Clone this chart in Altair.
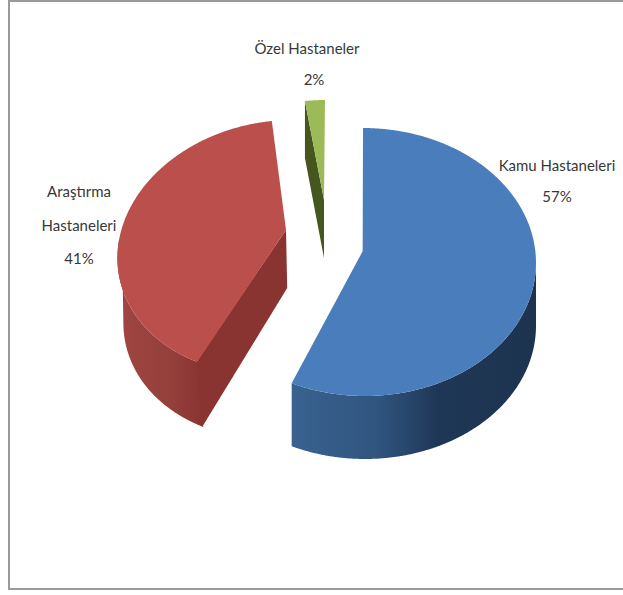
import numpy as np
import pandas as pd
import altair as alt

# Hospital types and their share of the total, in percent
names = ["Kamu Hastaneleri", "Araştırma Hastaneleri", "Özel Hastaneler"]
shares = [57, 41, 2]

WIDTH, HEIGHT = 623, 595
FONT = "Lato"
TEXT = "#383838"

# Projection of each exploded slice: rim ellipse, shear of the tilt, slice tip, wall depth
blue = dict(cx=364, cy=262, a=172, b=134, shear=-1, tip=(366, 245), depth=63, dx=0, tip_depth=60)
red = dict(cx=278, cy=247, a=160, b=127, shear=14, tip=(286, 230), depth=65, dx=6, tip_depth=58)
green = dict(cx=325, cy=227, a=160, b=127, shear=0, tip=(324, 200), depth=57, dx=0, tip_depth=58)

# Clockwise sweep of each slice from twelve o'clock, in degrees
ends = np.cumsum(shares) * 3.6
starts = np.concatenate([[0.0], ends[:-1]])


def rim(g, t0, t1, n=90):
    t = np.radians(np.linspace(t0, t1, n))
    return list(zip(g["cx"] + g["a"] * np.sin(t) + g["shear"] * np.cos(t),
                    g["cy"] - g["b"] * np.cos(t)))


def band(points, step=1.0):
    """Turn a closed outline into x / y / y2 rows for an area mark."""
    pts = np.array(points, dtype=float)
    grid = np.arange(pts[:, 0].min(), pts[:, 0].max() + step, step)
    grid = np.unique(np.clip(np.concatenate([grid, pts[:, 0]]), pts[:, 0].min(), pts[:, 0].max()))
    rows = []
    a, b = pts, np.roll(pts, -1, axis=0)
    for x in grid:
        ys = []
        for (x0, y0), (x1, y1) in zip(a, b):
            if min(x0, x1) <= x <= max(x0, x1):
                if x0 == x1:
                    ys += [y0, y1]
                else:
                    ys.append(y0 + (x - x0) / (x1 - x0) * (y1 - y0))
        if ys:
            rows.append(dict(x=x, y=min(ys), y2=max(ys)))
    return pd.DataFrame(rows)


X = alt.X("x:Q", scale=alt.Scale(domain=[0, WIDTH], nice=False, zero=False), axis=None)
Y = alt.Y("y:Q", scale=alt.Scale(domain=[HEIGHT, 0], nice=False, zero=False), axis=None)


def surface(points, paint):
    return alt.Chart(band(points)).mark_area(color=paint, interpolate="linear", strokeWidth=0).encode(
        x=X, y=Y, y2="y2:Q")


def top(g, t0, t1):
    return rim(g, t0, t1) + [g["tip"]]


def wall(g, t0, t1):
    arc = rim(g, t0, t1)
    return arc + [(x + g["dx"], y + g["depth"]) for x, y in reversed(arc)]


def face(g, t, bleed=0):
    # bleed pushes the outer edge a little over the neighbouring wall so no seam shows
    (cx, cy), tx, ty = rim(g, t, t, 1)[0], *g["tip"]
    return [(cx - bleed, cy), (tx, ty), (tx + g["dx"] * 0.2, ty + g["tip_depth"]),
            (cx + g["dx"] - bleed, cy + g["depth"])]


def sideways(*stops):
    return alt.Gradient(gradient="linear", x1=0, x2=1, y1=0, y2=0,
                        stops=[alt.GradientStop(offset=o, color=c) for o, c in stops])


layers = [
    # red slice
    surface(wall(red, starts[1], 274), sideways((0, "#a04542"), (0.6, "#95403c"), (1, "#8a3431"))),
    surface(face(red, starts[1], bleed=1), "#8a3431"),
    surface(top(red, starts[1], ends[1]), "#bb4f4c"),
    # green slice
    surface(face(green, starts[2]), "#46561f"),
    surface(top(green, starts[2], ends[2]), "#9bbb59"),
    # blue slice
    surface(wall(blue, 90, ends[0]),
            sideways((0, "#3a6290"), (0.35, "#30557f"), (0.6, "#1f3756"), (1, "#1d3450"))),
    surface([rim(blue, 0, 0, 1)[0], blue["tip"], (blue["tip"][0] - 3, blue["tip"][1])], "#1c3350"),
    surface(top(blue, starts[0], ends[0]), "#4a7dbb"),
]

# Category and percentage labels, one row per line of text
label_rows = pd.DataFrame([
    dict(x=557, y=166, text=names[0]),
    dict(x=557, y=197, text=f"{shares[0]}%"),
    dict(x=79, y=192, text="Araştırma"),
    dict(x=79, y=226, text="Hastaneleri"),
    dict(x=79, y=259, text=f"{shares[1]}%"),
    dict(x=307, y=49, text=names[2]),
    dict(x=314, y=80, text=f"{shares[2]}%"),
])
layers.append(
    alt.Chart(label_rows).mark_text(font=FONT, fontSize=15, color=TEXT, align="center", baseline="middle").encode(
        x=X, y=Y, text="text:N"))

# Picture frame along the left, top and bottom edges
FRAME = "#9a9a9a"
layers += [
    alt.Chart(pd.DataFrame({"k": [0]})).mark_rule(color=FRAME, strokeWidth=2).encode(
        x=alt.value(9), y=alt.value(0), y2=alt.value(590)),
    alt.Chart(pd.DataFrame({"k": [0]})).mark_rule(color=FRAME, strokeWidth=2).encode(
        x=alt.value(9), x2=alt.value(WIDTH), y=alt.value(1)),
    alt.Chart(pd.DataFrame({"k": [0]})).mark_rule(color=FRAME, strokeWidth=2).encode(
        x=alt.value(9), x2=alt.value(WIDTH), y=alt.value(589)),
]

chart = alt.layer(*layers).properties(
    width=WIDTH, height=HEIGHT, padding=0, background="white",
    autosize=alt.AutoSizeParams(type="none"),
).configure_view(stroke=None)

chart.save("out.html", embed_options={"renderer": "svg", "actions": False})
